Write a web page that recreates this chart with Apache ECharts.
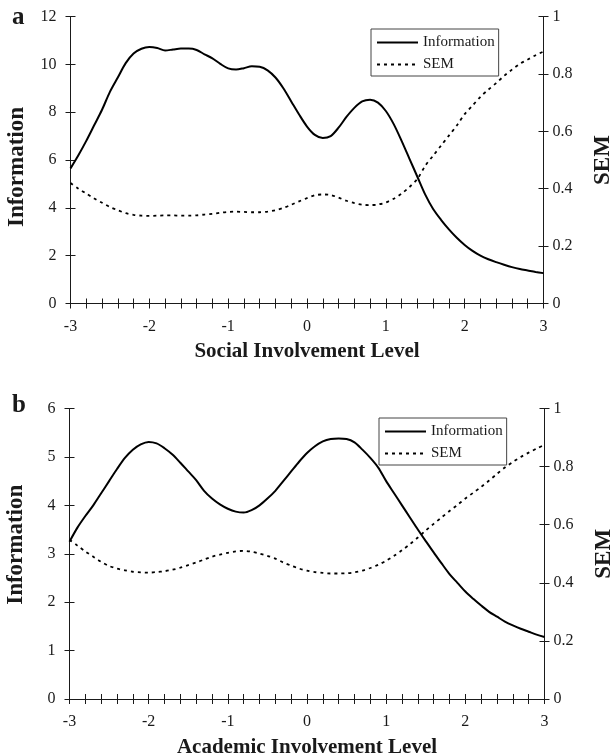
<!DOCTYPE html>
<html>
<head>
<meta charset="utf-8">
<script src="https://cdn.jsdelivr.net/npm/echarts@6/dist/echarts.min.js"></script>
<style>
  html, body { margin: 0; padding: 0; background: #fff; }
  #chart { width: 613px; height: 756px; }
</style>
</head>
<body>
<div id="chart"></div>
<script>
// theta grid shared by both panels
const theta = [-3.0, -2.9, -2.8, -2.7, -2.6, -2.5, -2.4, -2.3, -2.2, -2.1,
  -2.0, -1.9, -1.8, -1.7, -1.6, -1.5, -1.4, -1.3, -1.2, -1.1,
  -1.0, -0.9, -0.8, -0.7, -0.6, -0.5, -0.4, -0.3, -0.2, -0.1,
  0.0, 0.1, 0.2, 0.3, 0.4, 0.5, 0.6, 0.7, 0.8, 0.9,
  1.0, 1.1, 1.2, 1.3, 1.4, 1.5, 1.6, 1.7, 1.8, 1.9,
  2.0, 2.1, 2.2, 2.3, 2.4, 2.5, 2.6, 2.7, 2.8, 2.9, 3.0];

// panel a: social involvement
const infoSocial = [5.65, 6.2, 6.8, 7.45, 8.1, 8.85, 9.45, 10.05, 10.45, 10.65,
  10.72, 10.68, 10.58, 10.62, 10.66, 10.66, 10.6, 10.42, 10.25, 10.02,
  9.83, 9.78, 9.84, 9.92, 9.9, 9.75, 9.45, 9.0, 8.45, 7.9,
  7.4, 7.05, 6.92, 7.0, 7.35, 7.8, 8.18, 8.45, 8.52, 8.4,
  8.05, 7.5, 6.8, 6.05, 5.3, 4.55, 3.95, 3.5, 3.1, 2.75,
  2.45, 2.2, 2.0, 1.85, 1.73, 1.62, 1.52, 1.44, 1.38, 1.32, 1.27];
const semSocial = [0.42, 0.40, 0.383, 0.366, 0.351, 0.336, 0.325, 0.315, 0.309, 0.306,
  0.305, 0.306, 0.307, 0.307, 0.306, 0.306, 0.307, 0.31, 0.312, 0.316,
  0.319, 0.32, 0.319, 0.318, 0.318, 0.32, 0.325, 0.333, 0.344, 0.356,
  0.367, 0.377, 0.38, 0.378, 0.369, 0.358, 0.35, 0.344, 0.343, 0.345,
  0.352, 0.365, 0.383, 0.406, 0.434, 0.48, 0.515, 0.55, 0.585, 0.62,
  0.66, 0.69, 0.72, 0.745, 0.768, 0.793, 0.815, 0.835, 0.85, 0.865, 0.878];

// panel b: academic involvement
const infoAcademic = [3.25, 3.54, 3.78, 4.0, 4.25, 4.5, 4.75, 4.98, 5.15, 5.26,
  5.31, 5.28, 5.18, 5.05, 4.88, 4.7, 4.52, 4.3, 4.14, 4.02,
  3.93, 3.87, 3.85, 3.9, 4.0, 4.14, 4.3, 4.5, 4.7, 4.9,
  5.08, 5.22, 5.32, 5.37, 5.38, 5.37, 5.3, 5.15, 4.98, 4.78,
  4.5, 4.25, 4.0, 3.75, 3.5, 3.26, 3.03, 2.8, 2.58, 2.4,
  2.22, 2.07, 1.93, 1.8, 1.7, 1.6, 1.52, 1.45, 1.39, 1.33, 1.28];
const semAcademic = [0.548, 0.528, 0.508, 0.49, 0.472, 0.458, 0.449, 0.443, 0.438, 0.436,
  0.435, 0.437, 0.44, 0.445, 0.452, 0.461, 0.47, 0.48, 0.49, 0.497,
  0.503, 0.508, 0.51, 0.507, 0.5, 0.493, 0.483, 0.47, 0.459, 0.449,
  0.442, 0.437, 0.434, 0.432, 0.432, 0.433, 0.436, 0.442, 0.451, 0.462,
  0.476, 0.493, 0.512, 0.533, 0.556, 0.58, 0.603, 0.625, 0.647, 0.668,
  0.69, 0.71, 0.73, 0.752, 0.775, 0.797, 0.816, 0.833, 0.848, 0.862, 0.875];

const xTitles = ['Social Involvement Level', 'Academic Involvement Level'];
const panelLetters = ['a', 'b'];
const infoMax = [12, 6];
const infoStep = [2, 1];

const FONT = '"Liberation Serif", "DejaVu Serif", serif';
const INK = '#1a1a1a';

const grids = [
  { left: 70.5, right: 69.5, top: 16.5, height: 287, outerBoundsMode: 'none', containLabel: false },
  { left: 69.5, right: 68.5, top: 408.5, height: 290.5, outerBoundsMode: 'none', containLabel: false }
];

function pairs(ys) {
  return theta.map((t, i) => [t, ys[i]]);
}

function intLabel(v) {
  return Math.abs(v - Math.round(v)) < 1e-6 ? String(Math.round(v)) : '';
}

const xAxis = [], yAxis = [], series = [], legend = [];

[0, 1].forEach(function (g) {
  // main x axis (outer ticks + labels)
  xAxis.push({
    type: 'value', gridIndex: g, position: 'bottom', min: -3, max: 3, interval: 0.2,
    axisLine: { onZero: false, lineStyle: { color: INK, width: 1 } },
    axisTick: { length: 5, lineStyle: { color: INK } },
    axisLabel: { formatter: intLabel, color: INK, fontFamily: FONT, fontSize: 16, margin: 15 },
    splitLine: { show: false },
    name: xTitles[g], nameLocation: 'middle', nameGap: 38,
    nameTextStyle: { fontFamily: FONT, fontWeight: 'bold', fontSize: 21, color: INK }
  });
  // twin x axis only to draw the inner half of each tick
  xAxis.push({
    type: 'value', gridIndex: g, position: 'bottom', min: -3, max: 3, interval: 0.2,
    axisLine: { show: false, onZero: false },
    axisTick: { inside: true, length: 5, lineStyle: { color: INK } },
    axisLabel: { show: false }, splitLine: { show: false }
  });

  const yBase = yAxis.length;
  yAxis.push({
    type: 'value', gridIndex: g, position: 'left', min: 0, max: infoMax[g], interval: infoStep[g],
    axisLine: { show: true, onZero: false, lineStyle: { color: INK, width: 1 } },
    axisTick: { show: true, length: 5, lineStyle: { color: INK } },
    axisLabel: { color: INK, fontFamily: FONT, fontSize: 16, margin: 14 },
    splitLine: { show: false },
    name: 'Information', nameLocation: 'middle', nameGap: 42, nameRotate: 90,
    nameTextStyle: { fontFamily: FONT, fontWeight: 'bold', fontSize: 23, color: INK,
      padding: g === 0 ? [0, 14, 0, 0] : [0, 0, 0, 18] }
  });
  yAxis.push({
    type: 'value', gridIndex: g, position: 'right', min: 0, max: 1, interval: 0.2,
    axisLine: { show: true, onZero: false, lineStyle: { color: INK, width: 1 } },
    axisTick: { show: true, length: 5, lineStyle: { color: INK } },
    axisLabel: { color: INK, fontFamily: FONT, fontSize: 16, margin: 9 },
    splitLine: { show: false },
    name: 'SEM', nameLocation: 'middle', nameGap: 48, nameRotate: 90,
    nameTextStyle: { fontFamily: FONT, fontWeight: 'bold', fontSize: 23, color: INK }
  });
  yAxis.push({
    type: 'value', gridIndex: g, position: 'left', offset: 0, min: 0, max: infoMax[g], interval: infoStep[g],
    axisLine: { show: false, onZero: false },
    axisTick: { show: true, inside: true, length: 5, lineStyle: { color: INK } },
    axisLabel: { show: false }, splitLine: { show: false }
  });
  yAxis.push({
    type: 'value', gridIndex: g, position: 'right', offset: 0, min: 0, max: 1, interval: 0.2,
    axisLine: { show: false, onZero: false },
    axisTick: { show: true, inside: true, length: 5, lineStyle: { color: INK } },
    axisLabel: { show: false }, splitLine: { show: false }
  });

  series.push({
    name: 'Information', type: 'line', xAxisIndex: g * 2, yAxisIndex: yBase,
    data: pairs(g === 0 ? infoSocial : infoAcademic),
    smooth: 0.3, symbol: 'none', silent: true, color: '#000',
    lineStyle: { color: '#000', width: 2 }
  });
  series.push({
    name: 'SEM', type: 'line', xAxisIndex: g * 2, yAxisIndex: yBase + 1,
    data: pairs(g === 0 ? semSocial : semAcademic),
    smooth: 0.3, symbol: 'none', silent: true, color: '#000',
    lineStyle: { color: '#000', width: 1.8, type: [3, 4] }
  });

  legend.push({
    data: ['Information', 'SEM'],
    orient: 'vertical',
    left: g === 0 ? 371 : 379,
    top: g === 0 ? 29 : 418,
    padding: [6, 4, 4, 5],
    itemWidth: 41, itemHeight: 14, itemGap: 7,
    itemStyle: { opacity: 0 },
    borderColor: '#444', borderWidth: 1, borderRadius: 0,
    selectedMode: false,
    textStyle: { fontFamily: FONT, fontSize: 15, color: INK }
  });
});

const chart = echarts.init(document.getElementById('chart'), null, { renderer: 'canvas' });
chart.setOption({
  animation: false,
  backgroundColor: '#fff',
  grid: grids,
  xAxis: xAxis,
  yAxis: yAxis,
  legend: legend,
  series: series,
  graphic: [
    { type: 'text', left: 12, top: 5,
      style: { text: panelLetters[0], font: 'bold 25px ' + FONT, fill: INK } },
    { type: 'text', left: 12, top: 393,
      style: { text: panelLetters[1], font: 'bold 25px ' + FONT, fill: INK } }
  ]
});
</script>
</body>
</html>
